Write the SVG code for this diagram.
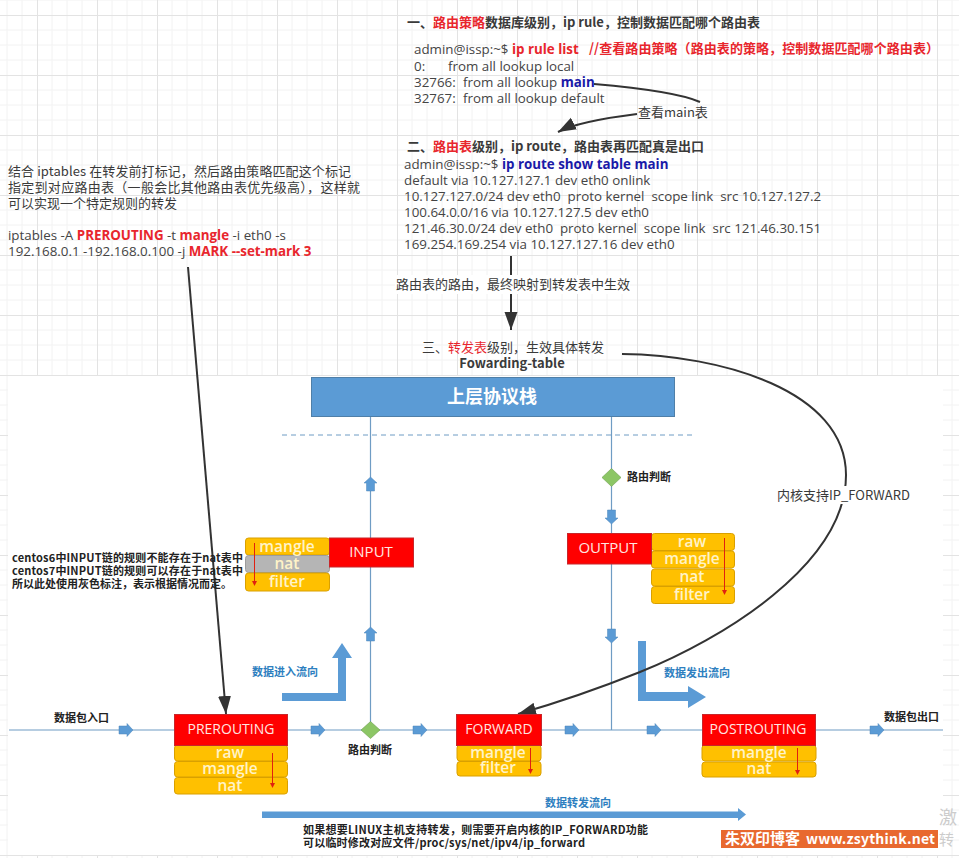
<svg xmlns="http://www.w3.org/2000/svg" width="959" height="858" viewBox="0 0 959 858">
<style>
text{font-family:"Noto Sans CJK SC","Noto Sans",sans-serif;font-size:13px;fill:#3a3a3a}
.l{font-family:"Open Sans","Noto Sans CJK SC",sans-serif;font-size:13.35px;fill:#444}
.b{font-weight:700}
.r{fill:#e8262d}
.bl{fill:#1a1aa8}
.s{font-size:11px;font-weight:700;fill:#222}
.f{font-size:11px;font-weight:700;fill:#2e7fc0}
.chain{fill:#f00;stroke:#c8262a;stroke-width:1}
.tb{fill:#ffc000;stroke:#d9a000;stroke-width:1}
.gr{fill:#b5b5b5;stroke:#9c9c9c;stroke-width:1}
.ct{font-family:"Open Sans","Noto Sans",sans-serif;font-size:14px;fill:#ffe6e0;text-anchor:middle}
.tt{font-family:"Open Sans","Noto Sans",sans-serif;font-size:15.500px;font-weight:600;fill:#fff3c8;text-anchor:middle}
.w{fill:none;stroke:#6f9cc4;stroke-width:1.2}
.k{fill:none;stroke:#333;stroke-width:2}
.ra{fill:none;stroke:#e02010;stroke-width:1;marker-end:url(#red)}
.ar{fill:#5b9bd5;stroke:#4f87ba;stroke-width:.5}
.big{fill:#5b9bd5}
</style>
<defs>
<pattern id="grid" x="37" y="15" width="60" height="60" patternUnits="userSpaceOnUse">
<path d="M15 0V60M30 0V60M45 0V60M0 15H60M0 30H60M0 45H60" stroke="#f2f2f2" stroke-width="1" fill="none"/>
<path d="M.5 0V60M0 .5H60" stroke="#e3e3e3" stroke-width="1" fill="none"/>
</pattern>
<marker id="red" markerWidth="6" markerHeight="6" refX="4" refY="3" orient="auto"><path d="M0 0.5L5 3L0 5.5z" fill="#e02010"/></marker>
<marker id="blk" markerUnits="userSpaceOnUse" markerWidth="20" markerHeight="14" refX="18" refY="7" orient="auto"><path d="M0 0.5L18 7L0 13.5z" fill="#333"/></marker>
<path id="ra" class="ar" d="M0-4H8V-6.5L14 0L8 6.5V4H0z"/>
</defs>
<rect width="959" height="858" fill="#fff"/>
<rect width="959" height="858" fill="url(#grid)"/>
<rect x="8" y="376" width="935" height="479" fill="#fff"/>

<g id="connectors">
<path class="w" d="M9 730H943M370.500 416V730M611.500 416V730"/>
<path d="M282 435H693" fill="none" stroke="#6f9cc4" stroke-width="1" stroke-dasharray="5 4"/>
<use href="#ra" x="119" y="730"/><use href="#ra" x="311" y="730"/><use href="#ra" x="413" y="730"/><use href="#ra" x="565" y="730"/><use href="#ra" x="647" y="730"/><use href="#ra" x="870" y="730"/>
<use href="#ra" transform="translate(370.500 491) rotate(-90)"/><use href="#ra" transform="translate(370.500 641) rotate(-90)"/>
<use href="#ra" transform="translate(611.500 510) rotate(90)"/><use href="#ra" transform="translate(611.500 629) rotate(90)"/>
<path class="big" d="M282 693H338V658H332L342 643L352 658H346V701H282z"/>
<path class="big" d="M638 641H646V692H688V686L706 697L688 708V701H638z"/>
<path class="big" d="M262 811.500H738V808L746 814.500L738 821V818H262z"/>
<path class="k" d="M594 84C640 88 680 93 700 102"/>
<path class="k" d="M637 114C605 118 575 123 558 132" marker-end="url(#blk)"/>
<path class="k" d="M511 256V330" marker-end="url(#blk)"/>
<path class="k" d="M188 267L226 714" marker-end="url(#blk)"/>
<path class="k" d="M622 354C720 355 846 390 846 475C846 565 720 640 640 672C600 688 560 702 518 714" marker-end="url(#blk)"/>
</g>

<g id="note-rule">
<text x="407" y="27" textLength="353"><tspan class="b">一、</tspan><tspan class="r b">路由策略</tspan><tspan class="b">数据库级别，ip rule，控制数据匹配哪个路由表</tspan></text>
<text class="l" x="414" y="54">admin@issp:~$ <tspan class="b r">ip rule list</tspan></text>
<text class="r b" x="589" y="53" textLength="350">//查看路由策略（路由表的策略，控制数据匹配哪个路由表）</text>
<text class="l" x="414" y="71">0:<tspan x="448">from all lookup local</tspan></text>
<text class="l" x="414" y="87">32766:<tspan x="463">from all lookup </tspan><tspan class="b bl">main</tspan></text>
<text class="l" x="414" y="103">32767:<tspan x="463">from all lookup default</tspan></text>
</g>
<g id="label-main"><text x="638" y="117">查看main表</text></g>
<g id="note-route">
<text x="407" y="151"><tspan class="b">二、</tspan><tspan class="r b">路由表</tspan><tspan class="b">级别，ip route，路由表再匹配真是出口</tspan></text>
<text class="l" x="404" y="169">admin@issp:~$ <tspan class="b bl">ip route show table main</tspan></text>
<text class="l" x="404" y="185">default via 10.127.127.1 dev eth0 onlink</text>
<text class="l" x="404" y="201" xml:space="preserve">10.127.127.0/24 dev eth0  proto kernel  scope link  src 10.127.127.2</text>
<text class="l" x="404" y="217">100.64.0.0/16 via 10.127.127.5 dev eth0</text>
<text class="l" x="404" y="233" xml:space="preserve">121.46.30.0/24 dev eth0  proto kernel  scope link  src 121.46.30.151</text>
<text class="l" x="404" y="249">169.254.169.254 via 10.127.127.16 dev eth0</text>
</g>
<g id="note-mark">
<text x="8" y="176" textLength="343">结合 iptables 在转发前打标记，然后路由策略匹配这个标记</text>
<text x="8" y="192" textLength="352">指定到对应路由表（一般会比其他路由表优先级高），这样就</text>
<text x="8" y="208">可以实现一个特定规则的转发</text>
<text class="l" x="8" y="240">iptables -A <tspan class="b r">PREROUTING</tspan> -t <tspan class="b r">mangle</tspan> -i eth0 -s</text>
<text class="l" x="8" y="256">192.168.0.1 -192.168.0.100 -j <tspan class="b r">MARK --set-mark 3</tspan></text>
</g>
<g id="label-map"><rect x="395" y="275" width="235" height="19" fill="#fff"/><text x="396" y="289">路由表的路由，最终映射到转发表中生效</text></g>
<g id="note-fwd">
<text x="422" y="352">三、<tspan class="r">转发表</tspan>级别，生效具体转发</text>
<text class="b" x="512" y="368" text-anchor="middle">Fowarding-table</text>
</g>
<g id="label-ipf"><rect x="775" y="486" width="139" height="18" fill="#fff"/><text x="777" y="500">内核支持IP_FORWARD</text></g>

<g id="stack"><rect x="311.500" y="377.500" width="363" height="39" fill="#5b9bd5" stroke="#4f7fa8"/><text x="492" y="403" text-anchor="middle" style="font-size:18px;font-weight:700;fill:#fff">上层协议栈</text></g>

<g id="decision-top"><path d="M611.500 468.500L621 477.500L611.500 486.500L602 477.500z" fill="#8cc665" stroke="#6fa050" stroke-width=".6"/><text class="s" x="627" y="481">路由判断</text></g>
<g id="decision-bottom"><path d="M370.500 721.500L380 730L370.500 738.500L361 730z" fill="#8cc665" stroke="#6fa050" stroke-width=".6"/><text class="s" x="348" y="754">路由判断</text></g>

<g id="input">
<rect class="tb" x="245.500" y="538" width="84" height="17" rx="3"/><rect class="gr" x="245.500" y="555.500" width="84" height="17" rx="3"/><rect class="tb" x="245.500" y="573" width="84" height="18" rx="3"/>
<rect class="chain" x="329.500" y="538" width="84" height="29"/>
<text class="ct" style="font-size:15px" x="371" y="557">INPUT</text>
<text class="tt" x="287" y="552">mangle</text><text class="tt" x="287" y="569">nat</text><text class="tt" x="287" y="587">filter</text>
<path class="ra" d="M254.500 543V585"/>
</g>
<g id="output">
<rect class="tb" x="651.500" y="533.500" width="83" height="17" rx="3"/><rect class="tb" x="651.500" y="551" width="83" height="17" rx="3"/><rect class="tb" x="651.500" y="569" width="83" height="17" rx="3"/><rect class="tb" x="651.500" y="586.500" width="83" height="17" rx="3"/>
<rect class="chain" x="567.500" y="533.500" width="84" height="30.500"/>
<text class="ct" style="font-size:15px" x="608" y="553">OUTPUT</text>
<text class="tt" x="692" y="547">raw</text><text class="tt" x="692" y="564">mangle</text><text class="tt" x="692" y="582">nat</text><text class="tt" x="692" y="600">filter</text>
<path class="ra" d="M724.500 538V594"/>
</g>
<g id="prerouting">
<rect class="tb" x="174.500" y="745" width="113" height="16" rx="3"/><rect class="tb" x="174.500" y="761.500" width="113" height="15.500" rx="3"/><rect class="tb" x="174.500" y="777.500" width="113" height="16.500" rx="3"/>
<rect class="chain" x="174.500" y="714.500" width="113" height="31"/>
<text class="ct" x="231" y="734">PREROUTING</text>
<text class="tt" x="230" y="758">raw</text><text class="tt" x="230" y="774">mangle</text><text class="tt" x="230" y="791">nat</text>
<path class="ra" d="M272.500 753V787"/>
</g>
<g id="forward">
<rect class="tb" x="457" y="745" width="84" height="16" rx="3"/><rect class="tb" x="457" y="761.500" width="84" height="14.500" rx="3"/>
<rect class="chain" x="456.500" y="714.500" width="85" height="31"/>
<text class="ct" x="499" y="734">FORWARD</text>
<text class="tt" x="498" y="758">mangle</text><text class="tt" x="498" y="773">filter</text>
<path class="ra" d="M530.500 748V773"/>
</g>
<g id="postrouting">
<rect class="tb" x="702" y="745" width="114" height="16" rx="3"/><rect class="tb" x="702" y="762" width="114" height="15" rx="3"/>
<rect class="chain" x="702.500" y="714.500" width="113" height="31"/>
<text class="ct" x="758" y="734">POSTROUTING</text>
<text class="tt" x="759" y="758">mangle</text><text class="tt" x="759" y="774">nat</text>
<path class="ra" d="M797.500 748V774"/>
</g>

<g id="labels">
<text class="s" x="12" y="562" textLength="231">centos6中INPUT链的规则不能存在于nat表中</text>
<text class="s" x="12" y="575" textLength="231">centos7中INPUT链的规则可以存在于nat表中</text>
<text class="s" x="12" y="588">所以此处使用灰色标注，表示根据情况而定。</text>
<text class="f" x="252" y="676">数据进入流向</text>
<text class="f" x="664" y="677">数据发出流向</text>
<text class="f" x="545" y="807">数据转发流向</text>
<text class="s" x="54" y="722">数据包入口</text>
<text class="s" x="884" y="721">数据包出口</text>
<text class="s" x="303" y="834" textLength="345">如果想要LINUX主机支持转发，则需要开启内核的IP_FORWARD功能</text>
<text class="s" x="303" y="847" textLength="282">可以临时修改对应文件/proc/sys/net/ipv4/ip_forward</text>
</g>
<g id="watermark">
<rect x="721" y="830" width="217" height="18" fill="#e8692f"/>
<text x="725" y="844" style="font-size:15px;font-weight:700;fill:#fff">朱双印博客</text>
<text x="806" y="844" textLength="129" style="font-size:14px;font-weight:700;fill:#fff">www.zsythink.net</text>
<text x="939" y="824" style="font-size:18px;fill:#ccc">激</text>
<text x="939" y="845" style="font-size:15px;fill:#ccc">转</text>
</g>
</svg>
